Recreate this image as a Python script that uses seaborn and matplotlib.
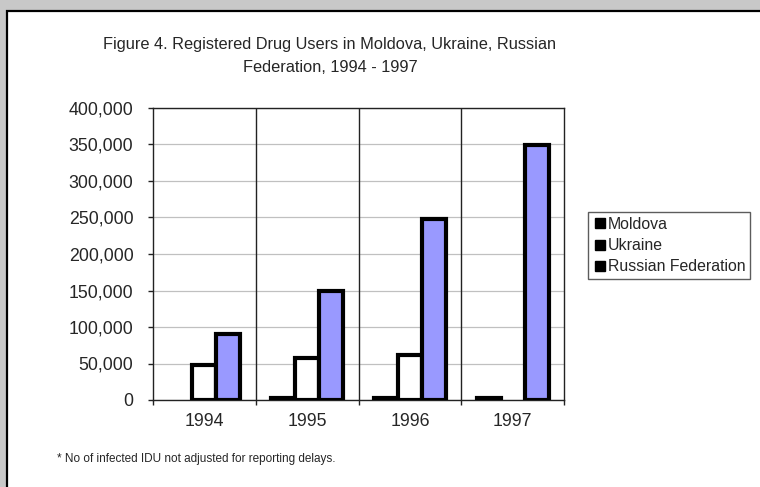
import numpy as np
import pandas as pd
import matplotlib
matplotlib.use("Agg")
import matplotlib.pyplot as plt
from matplotlib.lines import Line2D
from matplotlib.patches import Rectangle
from matplotlib.ticker import FuncFormatter
import seaborn as sns

sns.set_style("white")
plt.rcParams['font.family'] = ['Liberation Sans', 'DejaVu Sans']

# Datos
years = ["1994", "1995", "1996", "1997"]
moldova = [np.nan, 3000, 3000, 3000]
ukraine = [48000, 58000, 62000, np.nan]
russia = [90000, 150000, 248000, 349000]
countries = ["Moldova", "Ukraine", "Russian Federation"]
colors = {"Moldova": "white", "Ukraine": "white", "Russian Federation": "#9999ff"}

df = pd.DataFrame({
    "year": years * 3,
    "country": ["Moldova"] * 4 + ["Ukraine"] * 4 + ["Russian Federation"] * 4,
    "users": moldova + ukraine + russia,
})

fig = plt.figure(figsize=(7.6, 4.87), dpi=100)
fig.patch.set_facecolor("#c8c8c8")

# panel blanco con borde
panel = Rectangle((7 / 760, -0.1), 1.1, 1 - 11 / 487 + 0.1, transform=fig.transFigure,
                  facecolor="white", edgecolor="black", linewidth=1.6, zorder=-5)
fig.patches.append(panel)

ax = fig.add_axes([153 / 760, 1 - 400 / 487, (564 - 153) / 760, (400 - 108) / 487])
ax.set_facecolor("white")

sns.barplot(data=df, x="year", y="users", hue="country", hue_order=countries,
            order=years, palette=colors, saturation=1, edgecolor="black", linewidth=3,
            width=0.7, errorbar=None, ax=ax, zorder=3)

ax.set_ylim(0, 400000)
ax.set_yticks(range(0, 400001, 50000))
ax.yaxis.set_major_formatter(FuncFormatter(lambda v, p: f"{int(v):,}"))
ax.set_xlim(-0.5, 3.5)
ax.grid(axis="y", color="#c0c0c0", linewidth=0.9, zorder=0)
ax.set_axisbelow(True)
for xb in [0.5, 1.5, 2.5]:
    ax.axvline(xb, color="#222222", linewidth=1.0, zorder=1)

for s in ax.spines.values():
    s.set_visible(True)
    s.set_color("#222222")
    s.set_linewidth(1.0)

ax.set_xticks([-0.5, 0.5, 1.5, 2.5, 3.5])
ax.set_xticklabels([])
ax.set_xticks(range(4), minor=True)
ax.set_xticklabels(years, minor=True)
ax.tick_params(axis="x", which="major", direction="out", length=3.6, width=1, color="#222222", bottom=True)
ax.tick_params(axis="x", which="minor", length=0, labelsize=12.8, pad=9)
ax.tick_params(axis="y", direction="out", length=3.6, width=1, color="#222222", left=True,
               labelsize=12.8, pad=10.5)
ax.set_xlabel("")
ax.set_ylabel("")

# leyenda con cuadrados negros
handles = [Line2D([0], [0], marker="s", color="black", linestyle="", markersize=7.5) for _ in countries]
ax.legend_.remove()
fig.legend(handles, countries, loc="upper left", bbox_to_anchor=(588 / 760, 1 - 212 / 487),
           frameon=True, fancybox=False, edgecolor="#333333", fontsize=11.4,
           handlelength=0.9, handletextpad=0.05, borderpad=0.3, labelspacing=0.4,
           borderaxespad=0)

fig.text(330 / 760, 1 - 45 / 487, "Figure 4. Registered Drug Users in Moldova, Ukraine, Russian",
         ha="center", va="center", fontsize=11.8)
fig.text(330 / 760, 1 - 67 / 487, "Federation, 1994 - 1997",
         ha="center", va="center", fontsize=11.8)
fig.text(57 / 760, 1 - 459 / 487, "* No of infected IDU not adjusted for reporting delays.",
         ha="left", va="center", fontsize=8.5)

fig.savefig("out.png", dpi=100)
plt.close(fig)
